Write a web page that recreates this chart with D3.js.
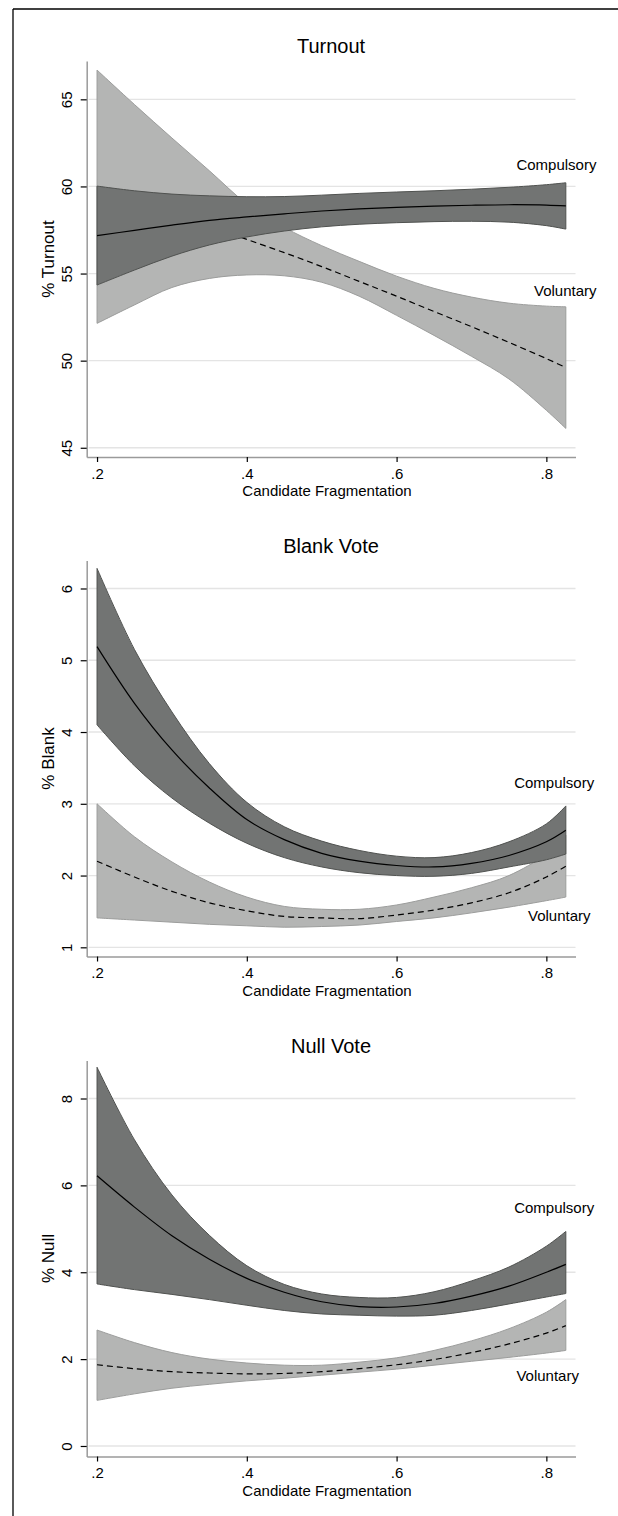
<!DOCTYPE html>
<html><head><meta charset="utf-8">
<script src="https://cdn.jsdelivr.net/npm/d3@7"></script>
<style>
html,body{margin:0;padding:0;background:#fff;}
svg text{font-family:"Liberation Sans", Arial, sans-serif; fill:#000;}
</style></head><body>
<svg id="chart" width="618" height="1516"></svg>
<script>
// ---------- DATA ----------
const fragX = [0.2, 0.25, 0.3, 0.35, 0.4, 0.45, 0.5, 0.55, 0.6, 0.65, 0.7, 0.75, 0.8, 0.826];
const xTicks = [0.2, 0.4, 0.6, 0.8];
const xTickLabels = [".2", ".4", ".6", ".8"];

const panelTitles = ["Turnout", "Blank Vote", "Null Vote"];
const yTitles = ["% Turnout", "% Blank", "% Null"];
const xTitle = "Candidate Fragmentation";
const seriesNames = ["Compulsory", "Voluntary"];

const turnoutTicks = [45, 50, 55, 60, 65];
const blankTicks = [1, 2, 3, 4, 5, 6];
const nullTicks = [0, 2, 4, 6, 8];

const turnoutCompFit = [57.18, 57.48, 57.78, 58.05, 58.25, 58.43, 58.59, 58.71, 58.80, 58.87, 58.92, 58.95, 58.93, 58.88];
const turnoutCompLo  = [54.34, 55.20, 56.00, 56.64, 57.10, 57.44, 57.68, 57.83, 57.92, 57.98, 58.00, 57.95, 57.75, 57.55];
const turnoutCompHi  = [60.02, 59.75, 59.56, 59.46, 59.41, 59.42, 59.50, 59.60, 59.68, 59.75, 59.84, 59.95, 60.10, 60.21];
const turnoutVolFit  = [59.41, 58.95, 58.40, 57.75, 56.96, 56.20, 55.40, 54.55, 53.70, 52.82, 51.95, 51.05, 50.12, 49.60];
const turnoutVolLo   = [52.14, 53.20, 54.20, 54.72, 54.92, 54.87, 54.50, 53.70, 52.60, 51.45, 50.25, 48.95, 47.15, 46.11];
const turnoutVolHi   = [66.68, 64.70, 62.78, 60.90, 59.00, 57.65, 56.60, 55.70, 54.85, 54.15, 53.65, 53.30, 53.13, 53.09];

const blankCompFit = [5.19, 4.40, 3.75, 3.22, 2.78, 2.50, 2.31, 2.20, 2.14, 2.12, 2.17, 2.28, 2.47, 2.63];
const blankCompLo  = [4.10, 3.53, 3.08, 2.73, 2.45, 2.25, 2.12, 2.04, 2.00, 1.99, 2.03, 2.12, 2.22, 2.30];
const blankCompHi  = [6.28, 5.15, 4.28, 3.56, 3.02, 2.68, 2.48, 2.35, 2.27, 2.25, 2.32, 2.47, 2.72, 2.97];
const blankVolFit  = [2.20, 1.98, 1.78, 1.62, 1.51, 1.43, 1.41, 1.40, 1.45, 1.52, 1.62, 1.76, 1.98, 2.13];
const blankVolLo   = [1.41, 1.38, 1.35, 1.32, 1.30, 1.28, 1.29, 1.31, 1.36, 1.41, 1.48, 1.56, 1.65, 1.70];
const blankVolHi   = [3.00, 2.54, 2.19, 1.91, 1.70, 1.57, 1.53, 1.53, 1.59, 1.70, 1.83, 2.00, 2.30, 2.56];

const nullCompFit = [6.22, 5.50, 4.84, 4.30, 3.86, 3.54, 3.32, 3.21, 3.20, 3.28, 3.45, 3.68, 4.00, 4.18];
const nullCompLo  = [3.73, 3.60, 3.49, 3.37, 3.24, 3.12, 3.04, 3.01, 2.99, 3.01, 3.12, 3.27, 3.43, 3.51];
const nullCompHi  = [8.72, 7.05, 5.78, 4.85, 4.15, 3.72, 3.50, 3.42, 3.42, 3.55, 3.80, 4.12, 4.60, 4.94];
const nullVolFit  = [1.87, 1.78, 1.71, 1.68, 1.66, 1.67, 1.71, 1.78, 1.87, 1.99, 2.15, 2.35, 2.60, 2.77];
const nullVolLo   = [1.05, 1.20, 1.33, 1.42, 1.50, 1.56, 1.63, 1.70, 1.77, 1.86, 1.95, 2.04, 2.14, 2.20];
const nullVolHi   = [2.67, 2.38, 2.15, 2.00, 1.91, 1.86, 1.86, 1.93, 2.03, 2.20, 2.42, 2.70, 3.08, 3.37];

// label anchor positions in data units [x, y] for Compulsory / Voluntary
const turnoutLabelPos = [[0.760, 60.93], [0.7835, 53.71]];
const blankLabelPos   = [[0.757, 3.22], [0.7755, 1.36]];
const nullLabelPos    = [[0.757, 5.355], [0.760, 1.50]];

// ---------- LAYOUT ----------
const W = 618, H = 1516;
const panelOffsets = [0, 499.5, 999.5];
const plot = {left: 86.7, right: 575.5, top: 61, bottom: 457};
const xDomain = [0.1862, 0.8389];
const yDomains = [[44.47, 67.2], [0.872, 6.39], [-0.242, 8.875]];

function rows(fit, lo, hi) {
  return fragX.map((x, i) => ({x, fit: fit[i], lo: lo[i], hi: hi[i]}));
}

const panels = [
  {ticks: turnoutTicks, comp: rows(turnoutCompFit, turnoutCompLo, turnoutCompHi),
   vol: rows(turnoutVolFit, turnoutVolLo, turnoutVolHi), labels: turnoutLabelPos},
  {ticks: blankTicks, comp: rows(blankCompFit, blankCompLo, blankCompHi),
   vol: rows(blankVolFit, blankVolLo, blankVolHi), labels: blankLabelPos},
  {ticks: nullTicks, comp: rows(nullCompFit, nullCompLo, nullCompHi),
   vol: rows(nullVolFit, nullVolLo, nullVolHi), labels: nullLabelPos}
];

const svg = d3.select("#chart");
svg.append("rect").attr("width", W).attr("height", H).attr("fill", "#fff");

// outer frame (top and left)
svg.append("line").attr("x1", 13).attr("x2", W).attr("y1", 9).attr("y2", 9)
  .attr("stroke", "#000").attr("stroke-width", 1.3);
svg.append("line").attr("x1", 13).attr("x2", 13).attr("y1", 9).attr("y2", H)
  .attr("stroke", "#000").attr("stroke-width", 1.3);

const curve = d3.curveCatmullRom.alpha(0.5);

panels.forEach((p, i) => {
  const g = svg.append("g").attr("transform", `translate(0,${panelOffsets[i]})`);
  const x = d3.scaleLinear().domain(xDomain).range([plot.left, plot.right]);
  const y = d3.scaleLinear().domain(yDomains[i]).range([plot.bottom, plot.top]);

  // gridlines
  g.append("g").selectAll("line").data(p.ticks).join("line")
    .attr("x1", plot.left + 2).attr("x2", plot.right)
    .attr("y1", d => y(d)).attr("y2", d => y(d))
    .attr("stroke", "#e4e4e4").attr("stroke-width", 1.3);

  const area = d3.area().x(d => x(d.x)).y0(d => y(d.lo)).y1(d => y(d.hi)).curve(curve);
  const line = d3.line().x(d => x(d.x)).y(d => y(d.fit)).curve(curve);

  // voluntary band + line
  g.append("path").datum(p.vol).attr("d", area)
    .attr("fill", "#b4b5b4").attr("stroke", "#9c9d9c").attr("stroke-width", 1);
  g.append("path").datum(p.vol).attr("d", line)
    .attr("fill", "none").attr("stroke", "#000").attr("stroke-width", 1.2)
    .attr("stroke-dasharray", "6,4");

  // compulsory band + line
  g.append("path").datum(p.comp).attr("d", area)
    .attr("fill", "#727473").attr("stroke", "#505250").attr("stroke-width", 1);
  g.append("path").datum(p.comp).attr("d", line)
    .attr("fill", "none").attr("stroke", "#000").attr("stroke-width", 1.2);

  // y axis
  const yAxis = g.append("g").attr("transform", `translate(${plot.left},0)`)
    .call(d3.axisLeft(y).tickValues(p.ticks).tickFormat(d3.format("d"))
      .tickSize(6).tickSizeOuter(0));
  yAxis.select(".domain").attr("stroke", "#9a9a9a").attr("stroke-width", 1.5);
  yAxis.selectAll(".tick line").attr("stroke", "#000").attr("stroke-width", 1.2);
  yAxis.selectAll(".tick text")
    .attr("x", null).attr("dy", null).attr("text-anchor", "middle")
    .attr("transform", "translate(-15,0) rotate(-90)")
    .style("font-size", "15px").style("font-family", "Liberation Sans, Arial, sans-serif").attr("fill", "#000");

  // x axis
  const xAxis = g.append("g").attr("transform", `translate(0,${plot.bottom})`)
    .call(d3.axisBottom(x).tickValues(xTicks).tickFormat((d, k) => xTickLabels[k])
      .tickSize(5).tickPadding(6).tickSizeOuter(0));
  xAxis.select(".domain").attr("stroke", "#9a9a9a").attr("stroke-width", 1.5);
  xAxis.selectAll(".tick line").attr("stroke", "#000").attr("stroke-width", 1.2);
  xAxis.selectAll(".tick text").style("font-size", "15px")
    .style("font-family", "Liberation Sans, Arial, sans-serif").attr("fill", "#000");

  // titles
  g.append("text").attr("x", 331).attr("y", 53.3).attr("text-anchor", "middle")
    .style("font-size", "20px").text(panelTitles[i]);
  g.append("text").attr("x", 327).attr("y", 496).attr("text-anchor", "middle")
    .style("font-size", "15px").text(xTitle);
  g.append("text").attr("transform", `translate(53.5,${(plot.top + plot.bottom) / 2}) rotate(-90)`)
    .attr("text-anchor", "middle").style("font-size", "17px").text(yTitles[i]);

  // series labels
  p.labels.forEach((pos, k) => {
    g.append("text").attr("x", x(pos[0])).attr("y", y(pos[1]))
      .style("font-size", "15px").text(seriesNames[k]);
  });
});
</script>
</body></html>
